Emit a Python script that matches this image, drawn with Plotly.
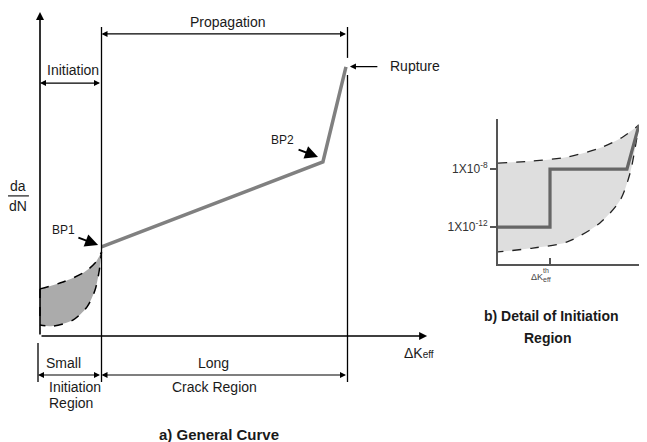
import plotly.graph_objects as go

# ---------------- data (schematic units) ----------------
# a) General curve: x = ΔKeff (schematic units), y = da/dN (schematic units)
crack_x = [2.0, 9.2, 9.95]
crack_y = [2.97, 5.8, 8.97]
band_upper_x = [0.0, 0.75, 1.4, 1.79, 2.0]
band_upper_y = [1.57, 1.8, 2.1, 2.43, 2.8]
band_lower_x = [0.0, 0.42, 1.07, 1.53, 1.79, 1.93, 2.0]
band_lower_y = [0.37, 0.33, 0.53, 0.97, 1.53, 2.2, 2.8]
bp1_x, bp2_x, rupture_x = 2.0, 9.2, 10.0

# b) Detail of initiation region: x = ΔK / ΔKth, y = log10(da/dN)
step_x = [0.0, 1.0, 1.0, 2.48, 2.71]
step_y = [-12, -12, -8, -8, -4.97]
inset_upper_x = [0.0, 0.67, 1.33, 1.96, 2.4, 2.71]
inset_upper_y = [-7.59, -7.45, -7.17, -6.55, -5.79, -4.97]
inset_lower_x = [0.0, 0.67, 1.33, 1.96, 2.35, 2.54, 2.63, 2.71]
inset_lower_y = [-13.72, -13.45, -13.03, -11.72, -10.14, -8.28, -6.69, -4.97]
inset_tickvals = [-12, -8]
inset_ticktext = ["1X10<sup>-12</sup>", "1X10<sup>-8</sup>"]

FONT = "Liberation Sans, Arial, sans-serif"
TXT = "#1a1a1a"
OFF = 8  # page body margin in px

fig = go.Figure()

# shaded band (main)
fig.add_trace(go.Scatter(
    x=band_upper_x + band_lower_x[::-1], y=band_upper_y + band_lower_y[::-1],
    mode="lines", fill="toself", fillcolor="#ababab",
    line=dict(color="black", width=1.5, dash="dash", shape="spline", smoothing=0.8),
    hoverinfo="skip", xaxis="x", yaxis="y"))
fig.add_trace(go.Scatter(x=[0, 0], y=[band_upper_y[0], band_lower_y[0]], mode="lines",
                         line=dict(color="black", width=1.5, dash="dash"), xaxis="x", yaxis="y"))
# crack growth curve
fig.add_trace(go.Scatter(x=crack_x, y=crack_y, mode="lines",
                         line=dict(color="#808080", width=3.5), xaxis="x", yaxis="y"))

# inset band
fig.add_trace(go.Scatter(
    x=inset_upper_x + inset_lower_x[::-1], y=inset_upper_y + inset_lower_y[::-1],
    mode="lines", fill="toself", fillcolor="#dedede",
    line=dict(color="#222", width=1.3, dash="dash", shape="spline", smoothing=0.8),
    xaxis="x2", yaxis="y2"))
fig.add_trace(go.Scatter(x=step_x, y=step_y, mode="lines",
                         line=dict(color="#666666", width=3.2), xaxis="x2", yaxis="y2"))

shapes = []
def vline(x, y0, y1, w=1.3):
    shapes.append(dict(type="line", xref="x", yref="y", x0=x, x1=x, y0=y0, y1=y1,
                       line=dict(color="black", width=w)))

vline(bp1_x, -1.53, 10.3)
vline(rupture_x, 9.27, 10.3)
vline(rupture_x, -1.53, 8.7)
vline(-0.065, -1.53, -0.23)
shapes.append(dict(type="line", xref="x", yref="y", x0=-1.04, x1=-0.36, y0=4.67, y1=4.67,
                   line=dict(color=TXT, width=1.2)))

ann = []
def arrow(x, y, ax, ay, both=False, w=1.2, size=1.0, head=2):
    ann.append(dict(x=x, y=y, ax=ax, ay=ay, xref="x", yref="y", axref="x", ayref="y",
                    text="", showarrow=True, arrowhead=head, arrowsize=size, arrowwidth=w,
                    arrowcolor="black", arrowside="end+start" if both else "end",
                    startarrowhead=head, startarrowsize=size, standoff=0, startstandoff=0))

def text(x, y, s, size=14, bold=False, xanchor="center", color=TXT):
    ann.append(dict(x=x, y=y, xref="x", yref="y", text=f"<b>{s}</b>" if bold else s,
                    showarrow=False, xanchor=xanchor, yanchor="middle",
                    font=dict(family=FONT, size=size, color=color)))

# axes
arrow(0, 10.8, 0, 0, w=1.6)
arrow(12.59, 0, 0, 0, w=1.6)
# region arrows
arrow(bp1_x, 10.07, rupture_x, 10.07, both=True)
arrow(0, 8.43, bp1_x, 8.43, both=True)
arrow(-0.065, -1.3, bp1_x, -1.3, both=True)
arrow(bp1_x, -1.3, rupture_x, -1.3, both=True)
# pointers
arrow(10.08, 8.98, 11.02, 8.98)
arrow(9.04, 5.97, 8.36, 6.23, w=2, size=1.3)
arrow(1.89, 3.03, 1.2, 3.3, w=2, size=1.3)

text(6.11, 10.47, "Propagation")
text(1.07, 8.87, "Initiation")
text(11.32, 9.0, "Rupture", xanchor="left")
text(7.9, 6.53, "BP2", size=12)
text(0.75, 3.53, "BP1", size=12)
text(-0.715, 5.0, "da")
text(-0.715, 4.33, "dN")
text(11.77, -0.57, "ΔK<span style='font-size:10px'>eff</span>", size=14, xanchor="left")
text(0.75, -0.9, "Small")
text(5.63, -0.9, "Long")
text(0.23, -1.7, "Initiation", xanchor="left")
text(0.23, -2.23, "Region", xanchor="left")
text(5.69, -1.7, "Crack Region")
text(5.82, -3.27, "a) General Curve", size=15, bold=True)
text(16.65, 0.67, "b) Detail of Initiation", size=14, bold=True)
text(16.49, -0.07, "Region", size=14, bold=True)

# inset ΔKeff^th label (placed in the full-page axes)
text(16.16, 1.97, "ΔK", size=9, color="#444")
text(16.47, 2.2, "th", size=7, color="#444")
text(16.5, 1.88, "eff", size=7, color="#444")

XS, YS = 30.75, 30.0
xmin = (OFF - 40) / XS
ymax = (336 - OFF) / YS

fig.update_layout(
    width=647, height=442, margin=dict(l=0, r=0, t=0, b=0),
    paper_bgcolor="white", plot_bgcolor="rgba(0,0,0,0)", showlegend=False,
    xaxis=dict(domain=[0, 1], range=[xmin, xmin + 647 / XS], visible=False, fixedrange=True),
    yaxis=dict(domain=[0, 1], range=[ymax - 442 / YS, ymax], visible=False, fixedrange=True),
    xaxis2=dict(domain=[(498 - OFF) / 647, (647 - OFF) / 647], range=[0, 2.865], anchor="y2",
                showline=True, linecolor="#555", linewidth=2, showgrid=False, zeroline=False,
                tickvals=[1], ticktext=[""], ticks="inside", ticklen=6, tickcolor="#555", tickwidth=1.5),
    yaxis2=dict(domain=[1 - (264 - OFF) / 442, 1 - (119 - OFF) / 442], range=[-14.55, -4.55], anchor="x2",
                showline=True, linecolor="#555", linewidth=2, showgrid=False, zeroline=False,
                tickvals=inset_tickvals, ticktext=inset_ticktext, ticks="outside", ticklen=6,
                tickcolor="#555", tickwidth=1.5,
                tickfont=dict(family=FONT, size=12, color="#333")),
    shapes=shapes, annotations=ann,
)

fig.write_html("out.html")
